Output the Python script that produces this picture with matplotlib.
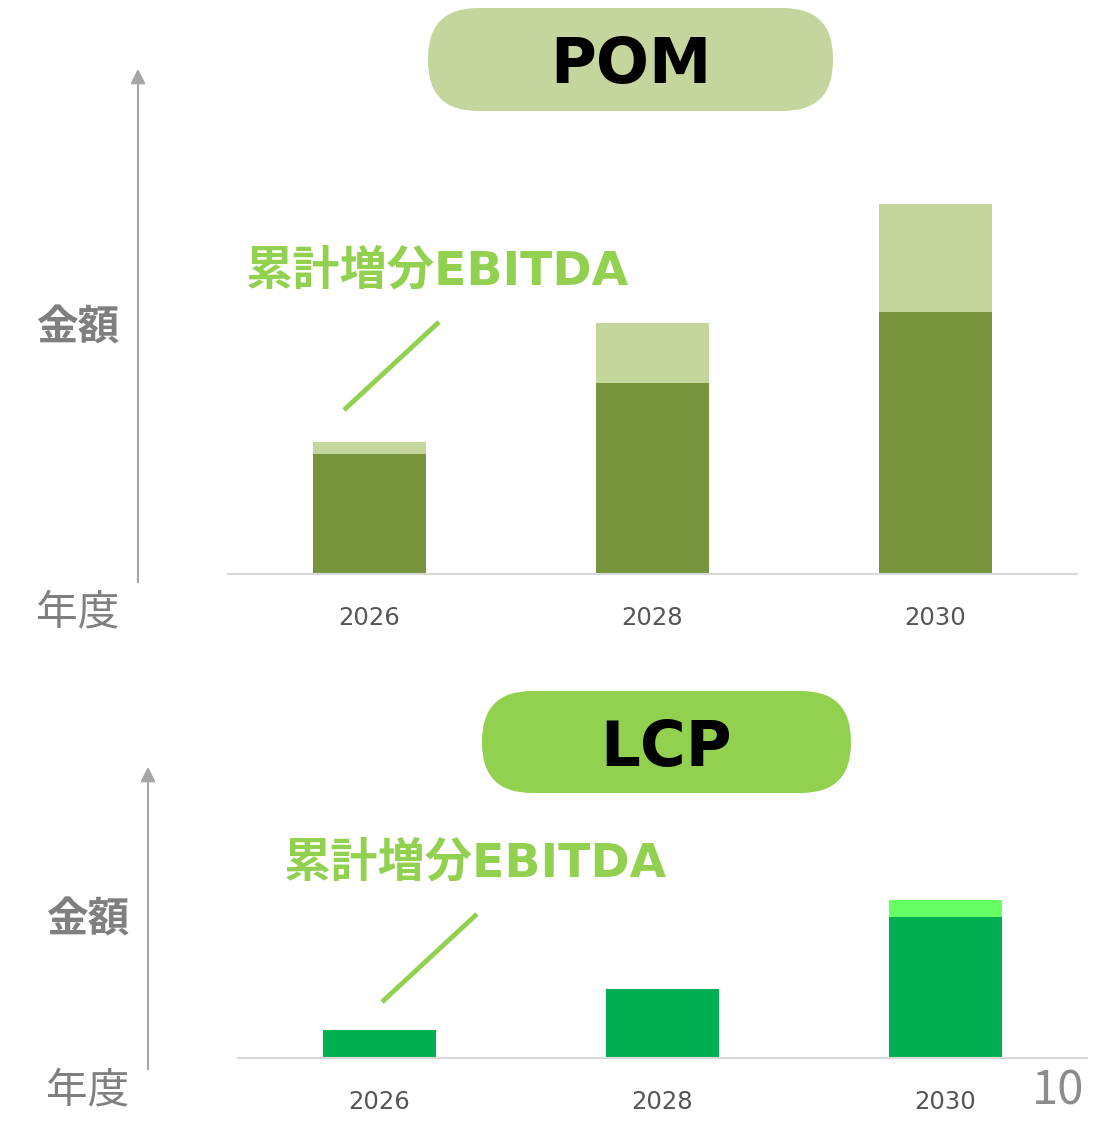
import matplotlib.pyplot as plt
from matplotlib.patches import FancyBboxPatch

plt.rcParams['font.family'] = ['Noto Sans CJK JP', 'DejaVu Sans']

# データ
years = ['2026', '2028', '2030']
pom_base = [120, 191, 262]
pom_ebitda = [12, 60, 108]
lcp_base = [28, 69, 141]
lcp_ebitda = [0, 0, 17]

W, H = 1097, 1125
fig = plt.figure(figsize=(W / 100, H / 100), dpi=100)

# 全体用のオーバーレイ (ピクセル座標)
ov = fig.add_axes([0, 0, 1, 1], zorder=0)
ov.set_xlim(0, W)
ov.set_ylim(H, 0)
ov.axis('off')
ov.patch.set_alpha(0)


def px_axes(left, top, right, bottom):
    return fig.add_axes([left / W, 1 - bottom / H, (right - left) / W, (bottom - top) / H], zorder=1)


def draw_bars(ax, base, extra, c_base, c_extra, ymax):
    x = range(len(years))
    ax.bar(x, base, width=0.4, color=c_base)
    ax.bar(x, extra, width=0.4, bottom=base, color=c_extra)
    ax.set_xlim(-0.5, 2.5)
    ax.set_ylim(0, ymax)
    ax.set_xticks(list(x))
    ax.set_xticklabels(years, fontsize=17.5, color='#555555', family='DejaVu Sans')
    ax.tick_params(axis='x', length=0, pad=23)
    ax.set_yticks([])
    for s in ['top', 'left', 'right']:
        ax.spines[s].set_visible(False)
    ax.spines['bottom'].set_color('#d9d9d9')
    ax.spines['bottom'].set_linewidth(1.5)
    ax.patch.set_alpha(0)


ax1 = px_axes(228, 150, 1077, 574)
draw_bars(ax1, pom_base, pom_ebitda, '#77933c', '#c4d69b', 424)

ax2 = px_axes(238, 700, 1087, 1058)
draw_bars(ax2, lcp_base, lcp_ebitda, '#00b050', '#66ff66', 358)


def panel(title, box, box_color, arrow_x, arrow_y0, arrow_y1, label_y, year_y, dx, dy):
    x0, y0, x1, y1 = box
    ov.add_patch(FancyBboxPatch((x0, y0), x1 - x0, y1 - y0,
                                boxstyle='round,pad=0,rounding_size=50',
                                fc=box_color, ec='none'))
    ov.text((x0 + x1) / 2, (y0 + y1) / 2 + 7, title, fontsize=45, fontweight='bold',
            ha='center', va='center', color='black', family='DejaVu Sans')
    ov.annotate('', xy=(arrow_x, arrow_y1), xytext=(arrow_x, arrow_y0),
                arrowprops=dict(arrowstyle='-|>', color='#a6a6a6', lw=1.5, mutation_scale=22))
    ov.text(arrow_x - 60, label_y, '金額', fontsize=30, fontweight='bold',
            ha='center', va='center', color='#7f7f7f')
    ov.text(arrow_x - 60, year_y, '年度', fontsize=30,
            ha='center', va='center', color='#7f7f7f')
    ov.text(246 + dx, 272 + dy, '累計増分EBITDA', fontsize=34, fontweight='bold',
            ha='left', va='center', color='#92d050', family=['DejaVu Sans', 'Noto Sans CJK JP'])
    ov.plot([344 + dx, 439 + dx], [410 + dy, 322 + dy], color='#92d050', lw=3.5,
            solid_capstyle='butt')


panel('POM', (428, 8, 833, 111), '#c4d69e', 138, 585, 66, 328, 613, 0, 0)
panel('LCP', (482, 691, 851, 793), '#92d050', 148, 1072, 764, 921, 1091, 38, 592)

ov.text(1058, 1091, '10', fontsize=34, ha='center', va='center', color='#8c8c8c')

fig.savefig('out.png', dpi=100)
